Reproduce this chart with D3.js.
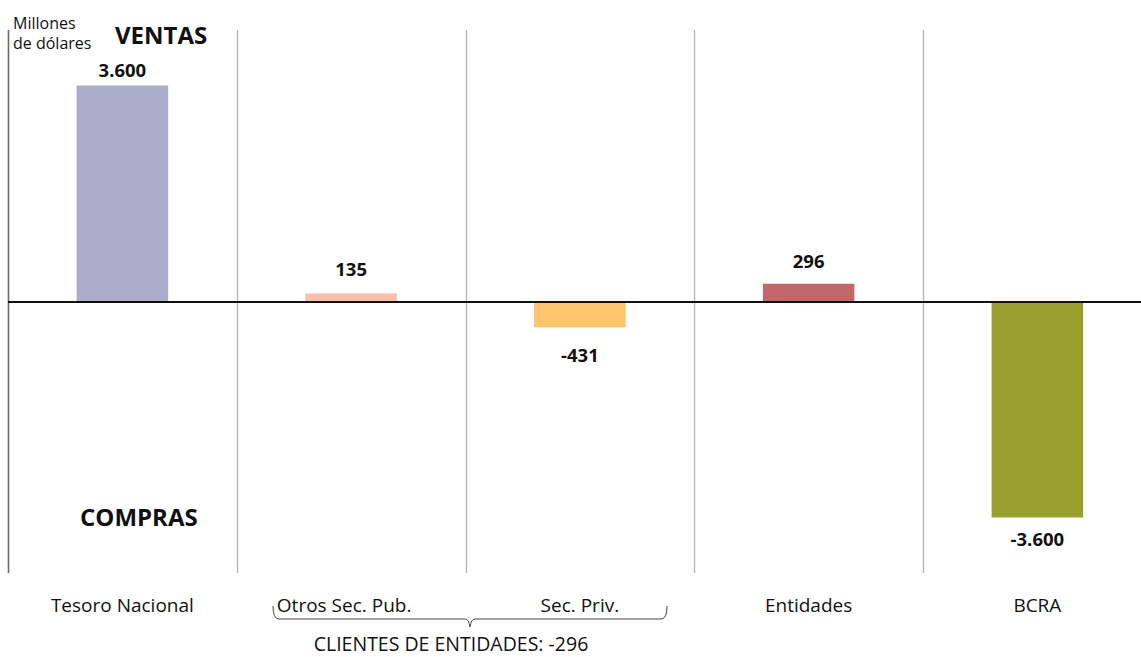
<!DOCTYPE html>
<html>
<head>
<meta charset="utf-8">
<script src="https://cdn.jsdelivr.net/npm/d3@7"></script>
<style>
  html, body { margin: 0; padding: 0; background: #fff; }
  svg { display: block; font-family: "Open Sans", Carlito, Calibri, sans-serif; }
</style>
</head>
<body>
<svg id="chart" width="1141" height="657"></svg>
<script>
// Net foreign-exchange operations by sector, millions of dollars
const categories = ["Tesoro Nacional", "Otros Sec. Pub.", "Sec. Priv.", "Entidades", "BCRA"];
const values = [3600, 135, -431, 296, -3600];
const valueLabels = ["3.600", "135", "-431", "296", "-3.600"];
const barColors = ["#ACADCA", "#F9BEAE", "#FDC46B", "#C3686A", "#99A02D"];
const bracketText = "CLIENTES DE ENTIDADES: -296";
const unitLines = ["Millones", "de dólares"];

const svg = d3.select("#chart");

const x = d3.scaleBand()
  .domain(categories)
  .range([8, 1151.75])
  .paddingInner(0.6)
  .paddingOuter(0.3);

const y = d3.scaleLinear()
  .domain([-3600, 3600])
  .range([517.5, 85.5]);

const step = x.step();
const gridTop = 30, gridBottom = 573;

// vertical separators between categories
svg.append("g")
  .selectAll("line")
  .data(categories.slice(1))
  .join("line")
  .attr("x1", d => Math.round(x(d) - x.paddingOuter() * step) + 0.5)
  .attr("x2", d => Math.round(x(d) - x.paddingOuter() * step) + 0.5)
  .attr("y1", gridTop)
  .attr("y2", gridBottom)
  .attr("stroke", "#b4b4b4")
  .attr("stroke-width", 1.3);

// left axis line
svg.append("line")
  .attr("x1", 8.5).attr("x2", 8.5)
  .attr("y1", gridTop).attr("y2", gridBottom)
  .attr("stroke", "#6a6a6a")
  .attr("stroke-width", 1.6);

// bars
svg.append("g")
  .selectAll("rect")
  .data(categories)
  .join("rect")
  .attr("x", d => x(d))
  .attr("width", x.bandwidth())
  .attr("y", (d, i) => y(Math.max(0, values[i])))
  .attr("height", (d, i) => Math.abs(y(values[i]) - y(0)))
  .attr("fill", (d, i) => barColors[i]);

// zero line
svg.append("line")
  .attr("x1", 8).attr("x2", 1141)
  .attr("y1", y(0) + 0.5).attr("y2", y(0) + 0.5)
  .attr("stroke", "#111")
  .attr("stroke-width", 2);

// value labels, nudged individually off the bar ends
const labelGap = { "Tesoro Nacional": -8.5, "Otros Sec. Pub.": -17, "Sec. Priv.": 35, "Entidades": -16, "BCRA": 28.5 };
svg.append("g")
  .selectAll("text")
  .data(categories)
  .join("text")
  .attr("x", d => x(d) + x.bandwidth() / 2)
  .attr("y", (d, i) => y(values[i]) + labelGap[d])
  .attr("text-anchor", "middle")
  .attr("font-size", 18.5)
  .attr("font-weight", "bold")
  .attr("fill", "#111")
  .text((d, i) => valueLabels[i]);

// category labels
const labelShift = { "Otros Sec. Pub.": -7 };
svg.append("g")
  .selectAll("text")
  .data(categories)
  .join("text")
  .attr("x", d => x(d) + x.bandwidth() / 2 + (labelShift[d] || 0))
  .attr("y", 612)
  .attr("text-anchor", "middle")
  .attr("font-size", 19)
  .attr("fill", "#111")
  .text(d => d);

// brace grouping the two client sectors
const bx0 = 273, bx1 = 667, bTop = 606, bMid = 619;
const bc = (bx0 + bx1) / 2;
const brace = d3.path();
brace.moveTo(bx0, bTop);
brace.quadraticCurveTo(bx0, bMid, bx0 + 6, bMid);
brace.lineTo(bc - 5, bMid);
brace.quadraticCurveTo(bc - 1, bMid, bc, bMid + 8);
brace.quadraticCurveTo(bc + 1, bMid, bc + 5, bMid);
brace.lineTo(bx1 - 6, bMid);
brace.quadraticCurveTo(bx1, bMid, bx1, bTop);
svg.append("path")
  .attr("d", brace.toString())
  .attr("fill", "none")
  .attr("stroke", "#444")
  .attr("stroke-width", 1);

svg.append("text")
  .attr("x", 451)
  .attr("y", 651)
  .attr("text-anchor", "middle")
  .attr("font-size", 19.5)
  .attr("fill", "#111")
  .text(bracketText);

// unit note and side headings
svg.append("g")
  .selectAll("text")
  .data(unitLines)
  .join("text")
  .attr("x", 13)
  .attr("y", (d, i) => 29 + i * 20)
  .attr("font-size", 16)
  .attr("fill", "#111")
  .text(d => d);

svg.append("text")
  .attr("x", 115).attr("y", 44)
  .attr("font-size", 24).attr("font-weight", "bold")
  .attr("fill", "#111")
  .text("VENTAS");

svg.append("text")
  .attr("x", 80).attr("y", 526)
  .attr("font-size", 24).attr("font-weight", "bold")
  .attr("fill", "#111")
  .text("COMPRAS");
</script>
</body>
</html>
